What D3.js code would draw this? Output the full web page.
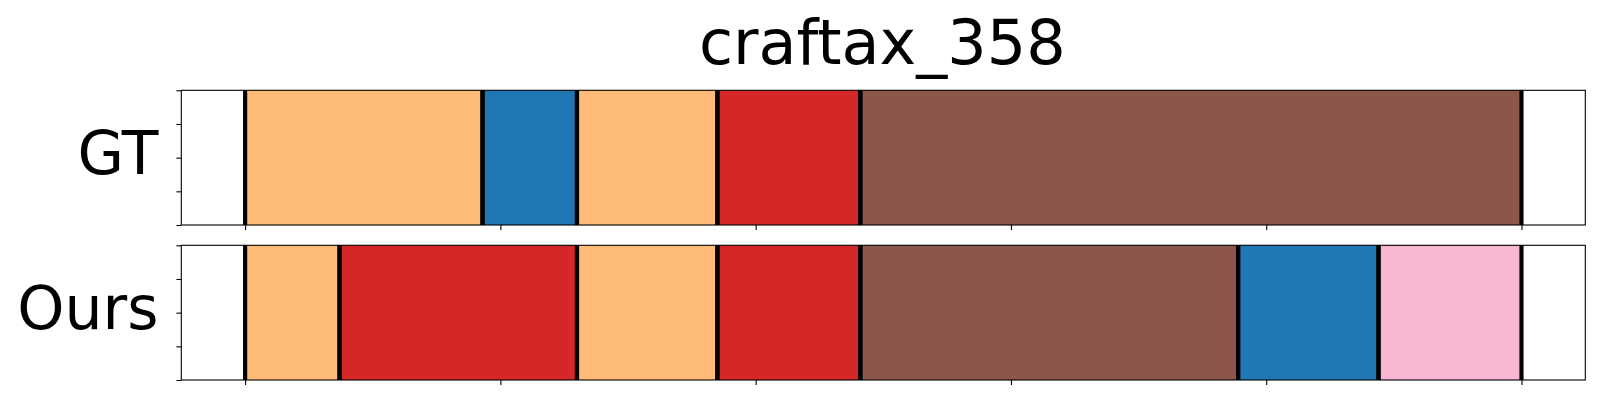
<!DOCTYPE html>
<html>
<head>
<meta charset="utf-8">
<script src="https://cdn.jsdelivr.net/npm/d3@7"></script>
<style>
  html, body { margin: 0; padding: 0; background: #fff; }
  svg { display: block; }
  text { font-family: "DejaVu Sans", sans-serif; fill: #000; }
</style>
</head>
<body>
<svg id="chart" width="1600" height="400"></svg>
<script>
// ---- data ----
const title = "craftax_358";
const rowLabels = ["GT", "Ours"];
// segment boundaries (frame index) and class ids per row
const gtBounds   = [0, 93, 130, 185, 241, 500];
const gtClasses  = [3, 0, 3, 6, 10];
const oursBounds = [0, 37, 130, 185, 241, 389, 444, 500];
const oursClasses = [3, 6, 3, 6, 10, 0, 13];
const xTicks = [0, 100, 200, 300, 400, 500];
const yTicks = [0, 0.25, 0.5, 0.75, 1];

// ---- layout ----
const W = 1600, H = 400;
const axLeft = 181.3, axRight = 1585.3;
const panels = [
  { top: 90.3, bottom: 225, bounds: gtBounds, classes: gtClasses, label: rowLabels[0] },
  { top: 245.3, bottom: 380, bounds: oursBounds, classes: oursClasses, label: rowLabels[1] }
];
const tab20 = ["#1f77b4","#aec7e8","#ff7f0e","#ffbb78","#2ca02c","#98df8a","#d62728","#ff9896",
               "#9467bd","#c5b0d5","#8c564b","#c49c94","#e377c2","#f7b6d2","#7f7f7f","#c7c7c7",
               "#bcbd22","#dbdb8d","#17becf","#9edae5"];
const color = d3.scaleOrdinal().domain(d3.range(20)).range(tab20);

const xMin = 0, xMax = 500, margin = 0.05 * (xMax - xMin);
const x = d3.scaleLinear().domain([xMin - margin, xMax + margin]).range([axLeft, axRight]);

const svg = d3.select("#chart");
svg.append("rect").attr("width", W).attr("height", H).attr("fill", "#fff");

svg.append("text")
  .attr("x", (axLeft + axRight) / 2 - 1).attr("y", 63.5)
  .attr("text-anchor", "middle")
  .attr("font-size", 62)
  .text(title);

const tickLen = 4.9;
const boundaryW = 4.17;

panels.forEach(p => {
  const y = d3.scaleLinear().domain([0, 1]).range([p.bottom, p.top]);
  const g = svg.append("g");
  const segs = p.classes.map((c, i) => ({ start: p.bounds[i], end: p.bounds[i + 1], cls: c }));

  g.selectAll("rect.seg").data(segs).join("rect")
    .attr("class", "seg")
    .attr("x", d => x(d.start))
    .attr("width", d => x(d.end) - x(d.start))
    .attr("y", y(1))
    .attr("height", y(0) - y(1))
    .attr("fill", d => color(d.cls));

  // boundary lines at each segment start and end
  const lines = [];
  segs.forEach(d => { lines.push(d.start); lines.push(d.end); });
  g.selectAll("line.b").data(lines).join("line")
    .attr("class", "b")
    .attr("x1", d => x(d)).attr("x2", d => x(d))
    .attr("y1", y(0)).attr("y2", y(1))
    .attr("stroke", "#000").attr("stroke-width", boundaryW);

  // axes: ticks only, no labels
  const yAxis = d3.axisLeft(y).tickValues(yTicks).tickSize(tickLen).tickFormat("");
  const xAxis = d3.axisBottom(x).tickValues(xTicks).tickSize(tickLen).tickFormat("");
  const ya = g.append("g").attr("transform", `translate(${axLeft},0)`).call(yAxis);
  const xa = g.append("g").attr("transform", `translate(0,${p.bottom})`).call(xAxis);
  [ya, xa].forEach(a => {
    a.select(".domain").remove();
    a.selectAll(".tick line").attr("stroke", "#000").attr("stroke-width", 1.1);
  });

  // spines
  g.append("rect")
    .attr("x", axLeft).attr("y", p.top)
    .attr("width", axRight - axLeft).attr("height", p.bottom - p.top)
    .attr("fill", "none").attr("stroke", "#000").attr("stroke-width", 1.1);

  // row label
  g.append("text")
    .attr("x", 158.5).attr("y", (p.top + p.bottom) / 2 + 16)
    .attr("text-anchor", "end")
    .attr("font-size", 60)
    .text(p.label);
});
</script>
</body>
</html>
